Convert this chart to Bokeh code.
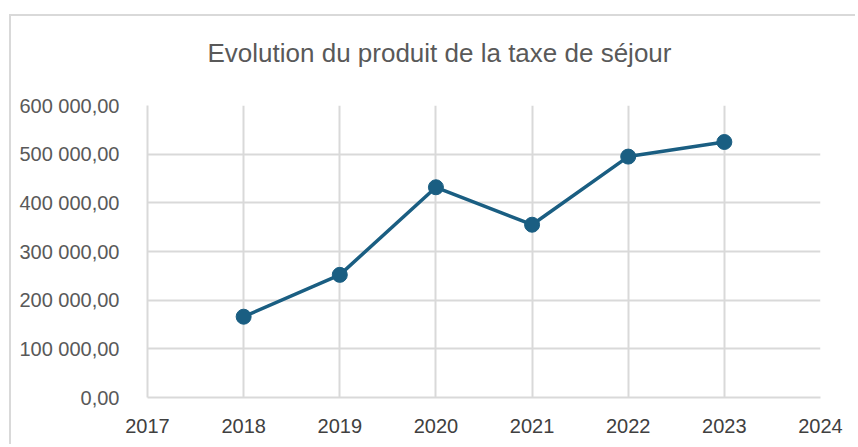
from bokeh.plotting import figure
from bokeh.models import FixedTicker, ColumnDataSource, Title
from bokeh.embed import file_html
from bokeh.resources import INLINE

years = [2018, 2019, 2020, 2021, 2022, 2023]
produit = [166000, 252000, 432000, 355000, 495000, 525000]
x_ticks = [2017, 2018, 2019, 2020, 2021, 2022, 2023, 2024]
y_ticks = [0, 100000, 200000, 300000, 400000, 500000, 600000]
y_tick_labels = ["0,00", "100 000,00", "200 000,00", "300 000,00",
                 "400 000,00", "500 000,00", "600 000,00"]
title_text = "Evolution du produit de la taxe de séjour"

FONT = "Liberation Sans"
GRID = "#d9d9d9"
TXT = "#595959"
LINE = "#1a5e82"

p = figure(width=846, height=430, output_backend="svg", toolbar_location=None,
           title=None,
           x_range=(2017, 2024), y_range=(0, 600000),
           min_border_left=136, min_border_right=37, min_border_top=89,
           min_border_bottom=49)
p.styles = {"border-top": "2px solid #d9d9d9", "border-left": "2px solid #d9d9d9",
            "margin-left": "9px", "margin-top": "14px"}

spacer = Title(text=" ", text_font_size="1px", standoff=35)
main_title = Title(text=title_text, align="left", offset=60, standoff=0,
                   text_font=FONT, text_font_size="26px", text_font_style="normal",
                   text_color=TXT)
p.add_layout(spacer, "above")
p.add_layout(main_title, "above")

p.outline_line_color = None
p.background_fill_color = "white"
p.border_fill_color = "white"

p.xaxis.ticker = FixedTicker(ticks=x_ticks)
p.yaxis.ticker = FixedTicker(ticks=y_ticks)
p.yaxis.major_label_overrides = {t: l for t, l in zip(y_ticks, y_tick_labels)}
for ax in (p.xaxis, p.yaxis):
    ax.axis_line_color = GRID
    ax.axis_line_width = 2
    ax.major_tick_line_color = None
    ax.minor_tick_line_color = None
    ax.major_label_text_font = FONT
    ax.major_label_text_font_size = "20px"
    ax.major_label_text_color = TXT
p.xaxis.major_label_text_color = "#404040"
p.xaxis.major_label_standoff = 15
p.yaxis.major_label_standoff = 22

p.xgrid.ticker = FixedTicker(ticks=x_ticks)
p.ygrid.ticker = FixedTicker(ticks=y_ticks)
for g in (p.xgrid, p.ygrid):
    g.grid_line_color = GRID
    g.grid_line_width = 2

src = ColumnDataSource(dict(x=years, y=produit))
p.line("x", "y", source=src, line_color=LINE, line_width=3.5)
p.scatter("x", "y", source=src, size=15, fill_color=LINE, line_color=LINE)

open("out.html", "w").write(file_html(p, INLINE))
